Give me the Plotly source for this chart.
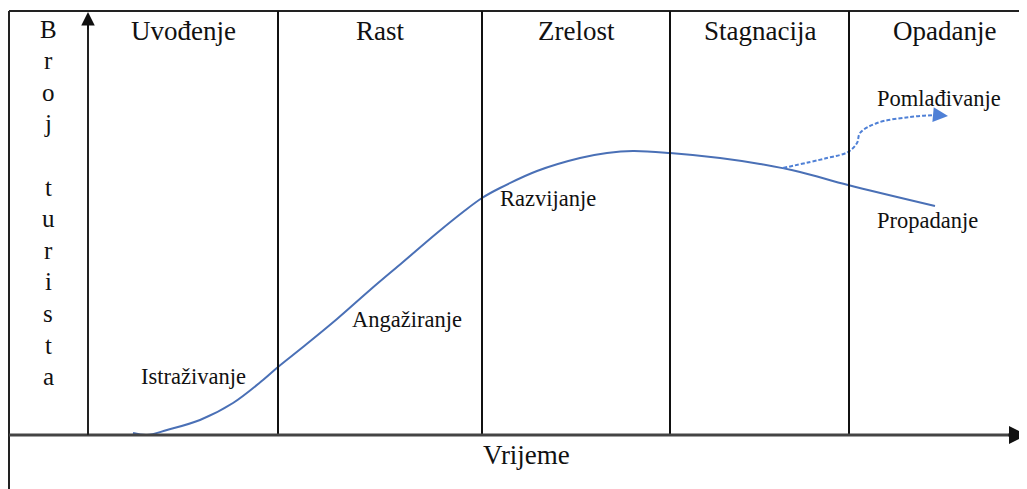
import plotly.graph_objects as go

# ---- data ----
stages = ["Uvođenje", "Rast", "Zrelost", "Stagnacija", "Opadanje"]
stage_label_x = [95, 292, 488, 672, 856]
stage_bounds = [190, 394, 582, 761]

curve_x = [45, 59, 79, 112, 145, 175, 190, 215, 249, 282, 315, 349, 375, 394, 412,
           449, 492, 519, 545, 582, 632, 672, 712, 760, 847]
curve_y = [2, 0, 5, 15, 32, 55, 68, 88, 116, 145, 173, 202, 223, 237, 247,
           264, 277, 282, 284, 282, 277, 271, 263, 250, 229]

branch_x = [695, 739, 760, 769, 772, 789, 822, 849]
branch_y = [267, 277, 283, 292, 302, 312, 318, 320]
branch_tip = (860, 319)

phase_labels = ["Istraživanje", "Angažiranje", "Razvijanje", "Pomlađivanje", "Propadanje"]
phase_x = [105, 319, 460, 851, 839]
phase_y = [59, 116, 237, 337, 215]

y_title = "Broj turista"
x_title = "Vrijeme"

# page has an 8px body margin, ranges compensate so that data origin sits at the axes crossing
XR = [-80, 947]
YR = [-62, 427]
TOP = 424
LEFT = -79
XEND = 939

FONT = "Liberation Serif"

fig = go.Figure()

fig.add_trace(go.Scatter(x=curve_x, y=curve_y, mode="lines",
                         line=dict(color="#4a70b6", width=2, shape="spline", smoothing=1.0),
                         hoverinfo="skip", showlegend=False))
fig.add_trace(go.Scatter(x=branch_x, y=branch_y, mode="lines",
                         line=dict(color="#4f80d6", width=2, dash="4px,2px", shape="spline", smoothing=1.0),
                         hoverinfo="skip", showlegend=False))

shapes = []
# outer frame
shapes.append(dict(type="line", xref="x", yref="y", x0=LEFT, x1=XR[1], y0=TOP, y1=TOP,
                   line=dict(color="#222", width=2)))
shapes.append(dict(type="line", xref="x", yref="y", x0=LEFT, x1=LEFT, y0=TOP, y1=YR[0],
                   line=dict(color="#222", width=2)))
# stage dividers
for b in stage_bounds:
    shapes.append(dict(type="line", xref="x", yref="y", x0=b, x1=b, y0=0, y1=TOP,
                       line=dict(color="#111", width=2)))
# axes
shapes.append(dict(type="line", xref="x", yref="y", x0=LEFT, x1=XEND - 6, y0=0, y1=0,
                   line=dict(color="#444", width=3)))
shapes.append(dict(type="line", xref="x", yref="y", x0=0, x1=0, y0=0, y1=TOP - 10,
                   line=dict(color="#222", width=2)))

ann = []
for s, x in zip(stages, stage_label_x):
    ann.append(dict(x=x, y=404, text=s, showarrow=False, xref="x", yref="y",
                    font=dict(family=FONT, size=27, color="#111")))
for s, x, y in zip(phase_labels, phase_x, phase_y):
    ann.append(dict(x=x, y=y, text=s, showarrow=False, xref="x", yref="y",
                    font=dict(family=FONT, size=22.5, color="#111")))
ann.append(dict(x=438, y=-20, text=x_title, showarrow=False, xref="x", yref="y",
                font=dict(family=FONT, size=27, color="#111")))
# vertical y title, letter by letter
for i, ch in enumerate(y_title):
    if ch == " ":
        continue
    ann.append(dict(x=-40, y=406 - 31.6 * i, text=ch, showarrow=False, xref="x", yref="y",
                    font=dict(family=FONT, size=25, color="#111")))
# arrowheads
ann.append(dict(x=0, y=TOP - 1, ax=0, ay=TOP - 20, xref="x", yref="y", axref="x", ayref="y",
                showarrow=True, arrowhead=2, arrowsize=1.35, arrowwidth=2, arrowcolor="#111", text=""))
ann.append(dict(x=XEND, y=0, ax=XEND - 20, ay=0, xref="x", yref="y", axref="x", ayref="y",
                showarrow=True, arrowhead=2, arrowsize=1.2, arrowwidth=3, arrowcolor="#111", text=""))
ann.append(dict(x=branch_tip[0], y=branch_tip[1], ax=branch_x[-1], ay=branch_y[-1],
                xref="x", yref="y", axref="x", ayref="y",
                showarrow=True, arrowhead=2, arrowsize=1.5, arrowwidth=2, arrowcolor="#4f80d6", text=""))

fig.update_layout(width=1027, height=489, margin=dict(l=0, r=0, t=0, b=0),
                  paper_bgcolor="white", plot_bgcolor="white",
                  xaxis=dict(range=XR, visible=False, fixedrange=True),
                  yaxis=dict(range=YR, visible=False, fixedrange=True),
                  shapes=shapes, annotations=ann, showlegend=False)

fig.write_html("out.html")
